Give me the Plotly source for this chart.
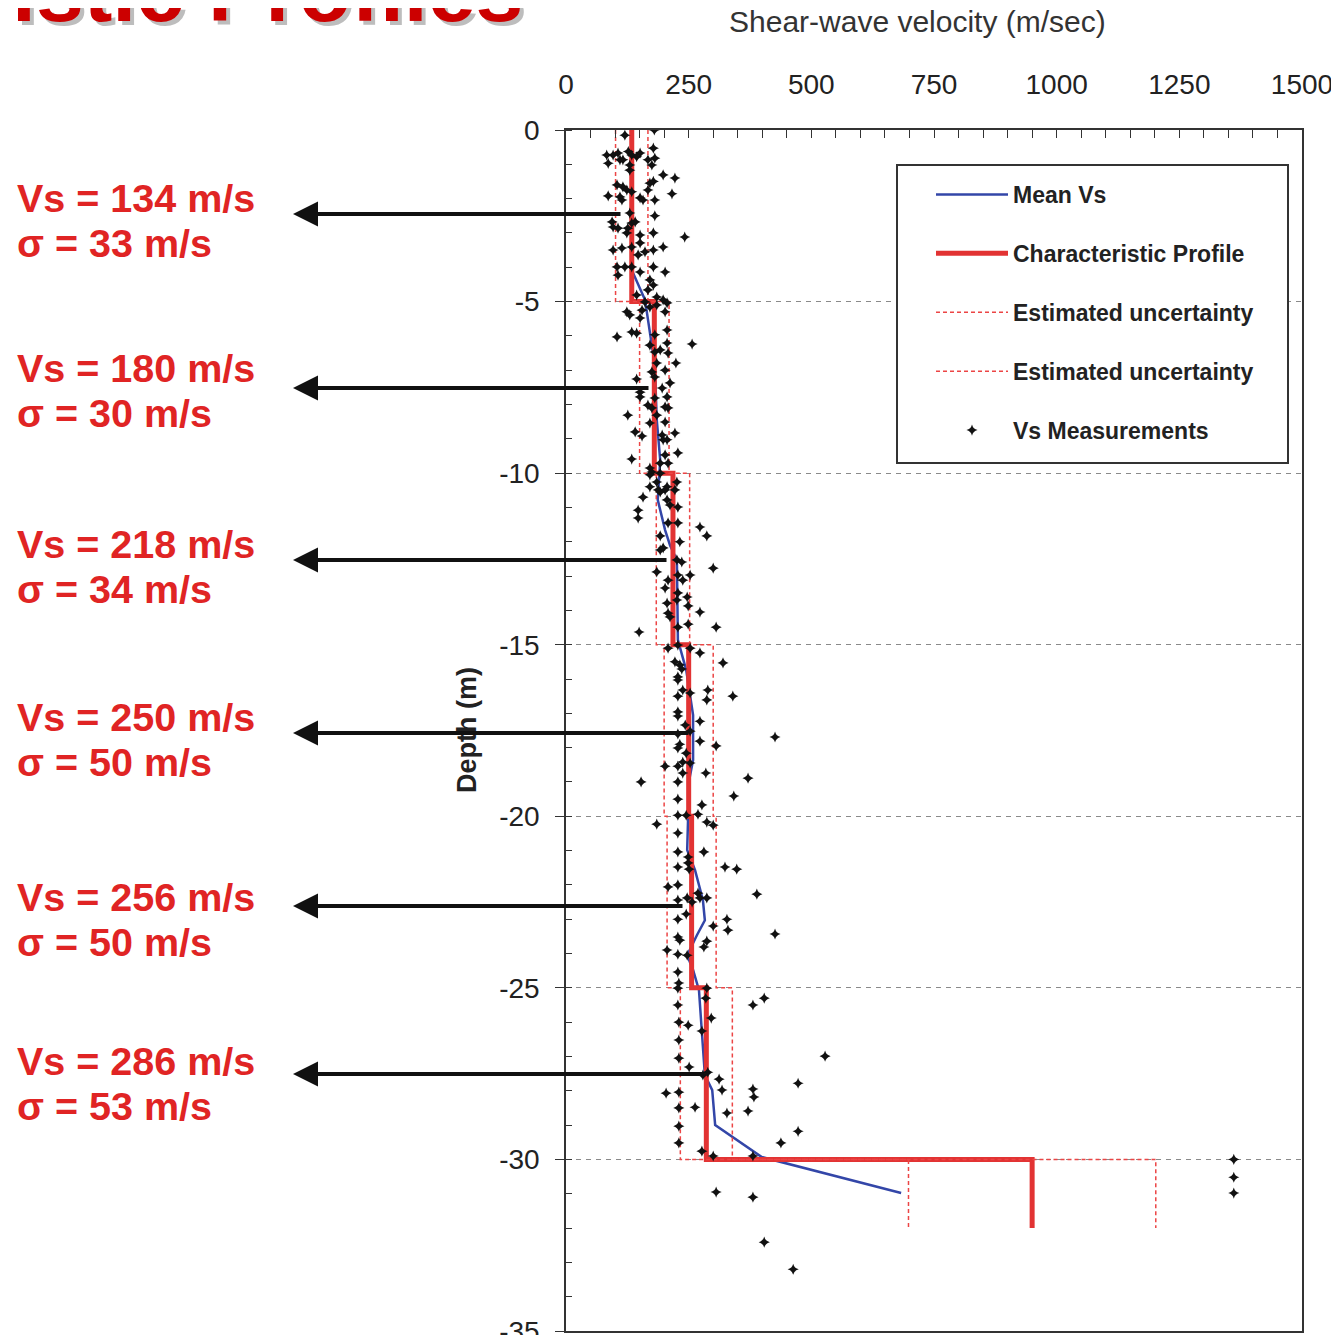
import plotly.graph_objects as go

# ---------------- data ----------------
layer_top = [0, 5, 10, 15, 20, 25, 30]
layer_bot = [5, 10, 15, 20, 25, 30, 32]
vs_char = [134, 180, 218, 250, 256, 286, 950]
sigma = [33, 30, 34, 50, 50, 53, 252]

mean_depth = [0, -4.08, -4.95, -6.12, -6.85, -8.45, -9.62, -10.78, -11.08, -11.66, -12.1, -12.53,
              -14.86, -15.74, -17.05, -18.36, -18.95, -20.98, -21.57, -22.44, -23.03, -23.46,
              -24.05, -24.48, -25.07, -26.81, -27.54, -27.98, -29.0, -29.93, -30.98]
mean_vs = [134, 134, 161, 173, 181, 185, 192, 187, 192, 202, 212, 226,
           228, 245, 259, 259, 251, 247, 263, 279, 283, 267,
           247, 259, 271, 279, 283, 298, 304, 399, 683]

meas_vs = [180, 120, 127, 83, 96, 106, 110, 86, 116, 134, 151, 144, 178, 167, 181, 175, 130, 130, 198, 222,
           171, 178, 104, 116, 124, 134, 216, 167, 86, 110, 114, 151, 157, 181, 130, 181, 94, 96, 106, 126,
           134, 141, 124, 151, 178, 242, 96, 114, 134, 151, 147, 161, 178, 198, 104, 120, 106, 134, 151, 178,
           202, 171, 178, 167, 144, 161, 185, 198, 206, 124, 155, 202,
           130, 171, 185, 151, 134, 144, 104, 181, 206, 257, 206, 171, 181, 192, 208, 224, 185, 202, 175, 181,
           144, 212, 196, 151, 151, 181, 206, 167, 175, 202, 208, 126, 185, 171, 202, 141, 155, 196, 198, 206,
           222, 228, 202, 134, 192, 208, 171, 175, 192, 171, 185, 171, 206, 222, 157, 192,
           188, 202, 226, 206, 212, 228, 147, 147, 208, 228, 273, 287, 192, 232, 192, 198, 226, 236, 300, 185,
           228, 238, 253, 208, 202, 228, 247, 206, 226, 249, 208, 212, 273, 249, 228, 149, 306, 228, 208, 273,
           222, 232, 320, 228,
           253, 236, 228, 238, 253, 289, 340, 228, 287, 228, 228, 273, 243, 253, 228, 426, 273, 232, 306, 228,
           245, 253, 238, 202, 228, 238, 285, 371, 153, 228, 342, 228, 277, 269, 228, 245, 287, 300, 185, 228,
           228, 281, 249, 249, 228, 251, 324, 348, 228, 208, 389, 269, 228, 247, 273, 287, 257, 245, 228, 328,
           330, 300, 426, 228, 232, 287, 281, 206, 228, 247, 228, 230, 228, 287, 285, 404, 381, 228, 296,
           230, 249, 277, 230, 528, 230, 251, 289, 279, 312, 473, 204, 230, 318, 381, 383, 230, 263, 328, 371,
           473, 230, 438, 230, 277, 300, 381, 306, 381, 404, 463, 1361, 1361, 1361]
meas_depth = [0, -0.15, -0.63, -0.73, -0.73, -0.67, -0.87, -0.97, -0.87, -0.73, -0.67, -0.78, -0.53, -0.87,
              -0.82, -1.02, -1.17, -1.02, -1.31, -1.4,
              -1.55, -1.5, -1.6, -1.66, -1.75, -1.8, -1.86, -1.75, -1.92, -1.95, -2.04, -1.98, -2.04, -2.04,
              -2.42, -2.5, -2.68, -2.83, -2.86, -2.86,
              -2.71, -2.68, -3.0, -3.06, -3.0, -3.12, -3.5, -3.44, -3.41, -3.29, -3.64, -3.55, -3.5, -3.41,
              -3.99, -3.99, -4.23, -3.99, -4.14, -3.99,
              -4.14, -4.37, -4.52, -4.66, -4.81, -5.01, -4.87, -4.95, -5.04, -5.3, -5.25, -5.3,
              -5.39, -5.16, -5.1, -5.48, -5.89, -5.92, -6.03, -5.97, -5.83, -6.24, -6.21, -6.27, -6.47, -6.41,
              -6.5, -6.79, -6.79, -7.0, -7.05, -7.2,
              -7.26, -7.37, -7.52, -7.64, -7.78, -7.81, -7.78, -8.02, -8.1, -8.07, -8.1, -8.31, -8.31, -8.54,
              -8.51, -8.8, -8.92, -8.89, -9.03, -9.03,
              -8.83, -9.41, -9.47, -9.59, -9.71, -9.71, -9.85, -9.97, -10.0, -10.05, -10.26, -10.4, -10.4,
              -10.49, -10.7, -10.55,
              -10.49, -10.49, -10.26, -10.78, -10.93, -10.99, -11.08, -11.31, -11.45, -11.45, -11.57, -11.83,
              -11.83, -12.0, -12.24, -12.18, -12.53, -12.59, -12.77, -12.88,
              -12.97, -13.12, -12.97, -13.12, -13.35, -13.49, -13.61, -13.79, -13.7, -13.87, -14.08, -14.19,
              -14.05, -14.4, -14.49, -14.63, -14.49, -15.01, -15.1, -15.24,
              -15.5, -15.59, -15.53, -15.94,
              -15.1, -15.71, -16.03, -16.32, -16.41, -16.32, -16.5, -16.5, -16.61, -16.96, -17.08, -17.23,
              -17.34, -17.52, -17.6, -17.69, -17.81, -17.9, -17.95, -18.01,
              -18.16, -18.45, -18.42, -18.54, -18.54, -18.74, -18.74, -18.89, -19.0, -19.0, -19.41, -19.5,
              -19.67, -19.94, -19.97, -19.97, -20.17, -20.26, -20.23, -20.49,
              -21.04, -21.04, -21.19, -21.36, -21.48, -21.54, -21.48, -21.54, -22.0, -22.06, -22.27, -22.24,
              -22.44, -22.38, -22.38, -22.38, -22.5, -22.85, -23.0, -23.0,
              -23.32, -23.2, -23.43, -23.52, -23.61, -23.64, -23.81, -23.9, -24.02, -24.05, -24.54, -24.86,
              -25.01, -25.01, -25.3, -25.3, -25.5, -25.5, -25.88,
              -26.0, -26.09, -26.26, -26.52, -26.99, -27.05, -27.31, -27.46, -27.54, -27.66, -27.78, -28.07,
              -28.04, -27.98, -27.95, -28.18, -28.5, -28.48, -28.65, -28.59,
              -29.18, -29.03, -29.52, -29.52, -29.76, -29.9, -29.9, -30.95, -31.1, -32.41, -33.2, -30.0,
              -30.52, -30.98]

x_ticks = [0, 250, 500, 750, 1000, 1250, 1500]
y_ticks = [0, -5, -10, -15, -20, -25, -30, -35]
y_ticktext = ["0", "-5", "-10", "-15", "-20", "-25", "-30", "-35"]

layer_labels = [("Vs = 134 m/s", "σ = 33 m/s"), ("Vs = 180 m/s", "σ = 30 m/s"),
                ("Vs = 218 m/s", "σ = 34 m/s"), ("Vs = 250 m/s", "σ = 50 m/s"),
                ("Vs = 256 m/s", "σ = 50 m/s"), ("Vs = 286 m/s", "σ = 53 m/s")]

# ---------------- helpers ----------------
OFF = 8                      # default page body margin
W_FIG, H_FIG = 1339 - OFF, 1343 - 2 * OFF
L, R, T, B = 566, 1302, 130, 1331   # plot area in page pixels


def px(x):
    return (x - L) / (R - L)


def py(y):
    return (B - y) / (B - T)


def step(values):
    xs, ys = [], []
    for v, t, b in zip(values, layer_top, layer_bot):
        xs += [v, v]
        ys += [-t, -b]
    return xs, ys


char_x, char_y = step(vs_char)
lo_x, lo_y = step([v - s for v, s in zip(vs_char, sigma)])
hi_x, hi_y = step([v + s for v, s in zip(vs_char, sigma)])

FONT = "Liberation Sans, Arial, sans-serif"
RED_TXT = "#E02424"

fig = go.Figure()
fig.add_trace(go.Scatter(x=mean_vs, y=mean_depth, mode="lines", name="Mean Vs",
                         line=dict(color="#3346A8", width=2.5), legendgroup="a"))
fig.add_trace(go.Scatter(x=char_x, y=char_y, mode="lines", name="Characteristic Profile",
                         line=dict(color="#E23333", width=5), legendgroup="b"))
fig.add_trace(go.Scatter(x=lo_x, y=lo_y, mode="lines", name="Estimated uncertainty",
                         line=dict(color="#EC4545", width=1.5, dash="4px,3px"), legendgroup="c"))
fig.add_trace(go.Scatter(x=hi_x, y=hi_y, mode="lines", name="Estimated uncertainty",
                         line=dict(color="#EC4545", width=1.5, dash="4px,3px"), legendgroup="d"))
fig.add_trace(go.Scatter(x=meas_vs, y=meas_depth, mode="markers", name="Vs Measurements",
                         marker=dict(symbol="star-diamond", size=8, color="#111111"), legendgroup="e"))

annotations = []
# title (cropped) with shadow
for dx, dy, col in [(4, 4, "#BDBDBD"), (0, 0, "#CC0000")]:
    annotations.append(dict(text="istic Profiles", xref="paper", yref="paper",
                            x=px(10 + dx), y=py(41 + dy), xanchor="left", yanchor="bottom",
                            showarrow=False,
                            font=dict(family=FONT, size=86, color=col, weight="bold")))
# axis titles
annotations.append(dict(text="Shear-wave velocity (m/sec)", xref="paper", yref="paper",
                        x=px(917), y=py(21), xanchor="center", yanchor="middle", showarrow=False,
                        font=dict(family=FONT, size=30, color="#333333")))
annotations.append(dict(text="Depth (m)", xref="paper", yref="paper", textangle=-90,
                        x=px(467), y=py(730), xanchor="center", yanchor="middle", showarrow=False,
                        font=dict(family=FONT, size=27, color="#222222", weight="bold")))

arrow_y = [214, 388, 560, 733, 906, 1074]
arrow_tail = [622, 650, 668, 690, 684, 705]
text_y1 = [198, 368, 544, 717, 897, 1061]
for (l1, l2), ay_, tail, ty in zip(layer_labels, arrow_y, arrow_tail, text_y1):
    annotations.append(dict(text="", xref="paper", yref="paper", x=px(293), y=py(ay_),
                            ax=tail - 293, ay=0, showarrow=True, arrowhead=2, arrowsize=1.25,
                            arrowwidth=4, arrowcolor="#111111", standoff=0))
    annotations.append(dict(text=l1, xref="paper", yref="paper", x=px(15), y=py(ty),
                            xanchor="left", yanchor="middle", showarrow=False,
                            font=dict(family=FONT, size=39.5, color=RED_TXT, weight="bold")))
    annotations.append(dict(text=l2, xref="paper", yref="paper", x=px(15), y=py(ty + 45),
                            xanchor="left", yanchor="middle", showarrow=False,
                            font=dict(family=FONT, size=39.5, color=RED_TXT, weight="bold")))

shapes = [dict(type="rect", xref="paper", yref="paper", x0=px(897), x1=px(1288),
               y0=py(463), y1=py(165), line=dict(color="#333333", width=2),
               fillcolor="white", layer="above")]

fig.update_layout(
    width=W_FIG, height=H_FIG,
    margin=dict(l=L - OFF, r=W_FIG - (R - OFF), t=T - OFF, b=H_FIG - (B - OFF), pad=0,
                autoexpand=False),
    paper_bgcolor="white", plot_bgcolor="white",
    font=dict(family=FONT, color="#222222"),
    annotations=annotations, shapes=shapes,
    showlegend=True,
    legend=dict(x=px(931), y=py(173), xanchor="left", yanchor="top",
                bgcolor="rgba(0,0,0,0)", borderwidth=0, itemwidth=72,
                tracegroupgap=26, traceorder="grouped",
                font=dict(family=FONT, size=23, color="#222222", weight="bold")),
    xaxis=dict(side="top", range=[0, 1500], tickvals=x_ticks, ticks="inside", ticklen=8,
               tickcolor="#333333", showline=True, linecolor="#333333", linewidth=1.5,
               mirror=True, showgrid=False, zeroline=False, ticklabelstandoff=23,
               ticklabeloverflow="allow", automargin=False,
               tickfont=dict(family=FONT, size=28, color="#222222"),
               minor=dict(dtick=50, ticks="inside", ticklen=8, tickcolor="#333333")),
    yaxis=dict(range=[-35, 0], tickvals=y_ticks, ticktext=y_ticktext, ticks="outside", ticklen=9,
               tickcolor="#333333", showline=True, linecolor="#333333", linewidth=1.5,
               mirror=True, showgrid=True, gridcolor="#8a8a8a", gridwidth=1, griddash="5px,5px",
               zeroline=False, ticklabelstandoff=10, ticklabeloverflow="allow", automargin=False,
               tickfont=dict(family=FONT, size=28, color="#222222"),
               minor=dict(dtick=1, ticks="inside", ticklen=6, tickcolor="#333333", showgrid=False)),
)

fig.write_html("out.html")
